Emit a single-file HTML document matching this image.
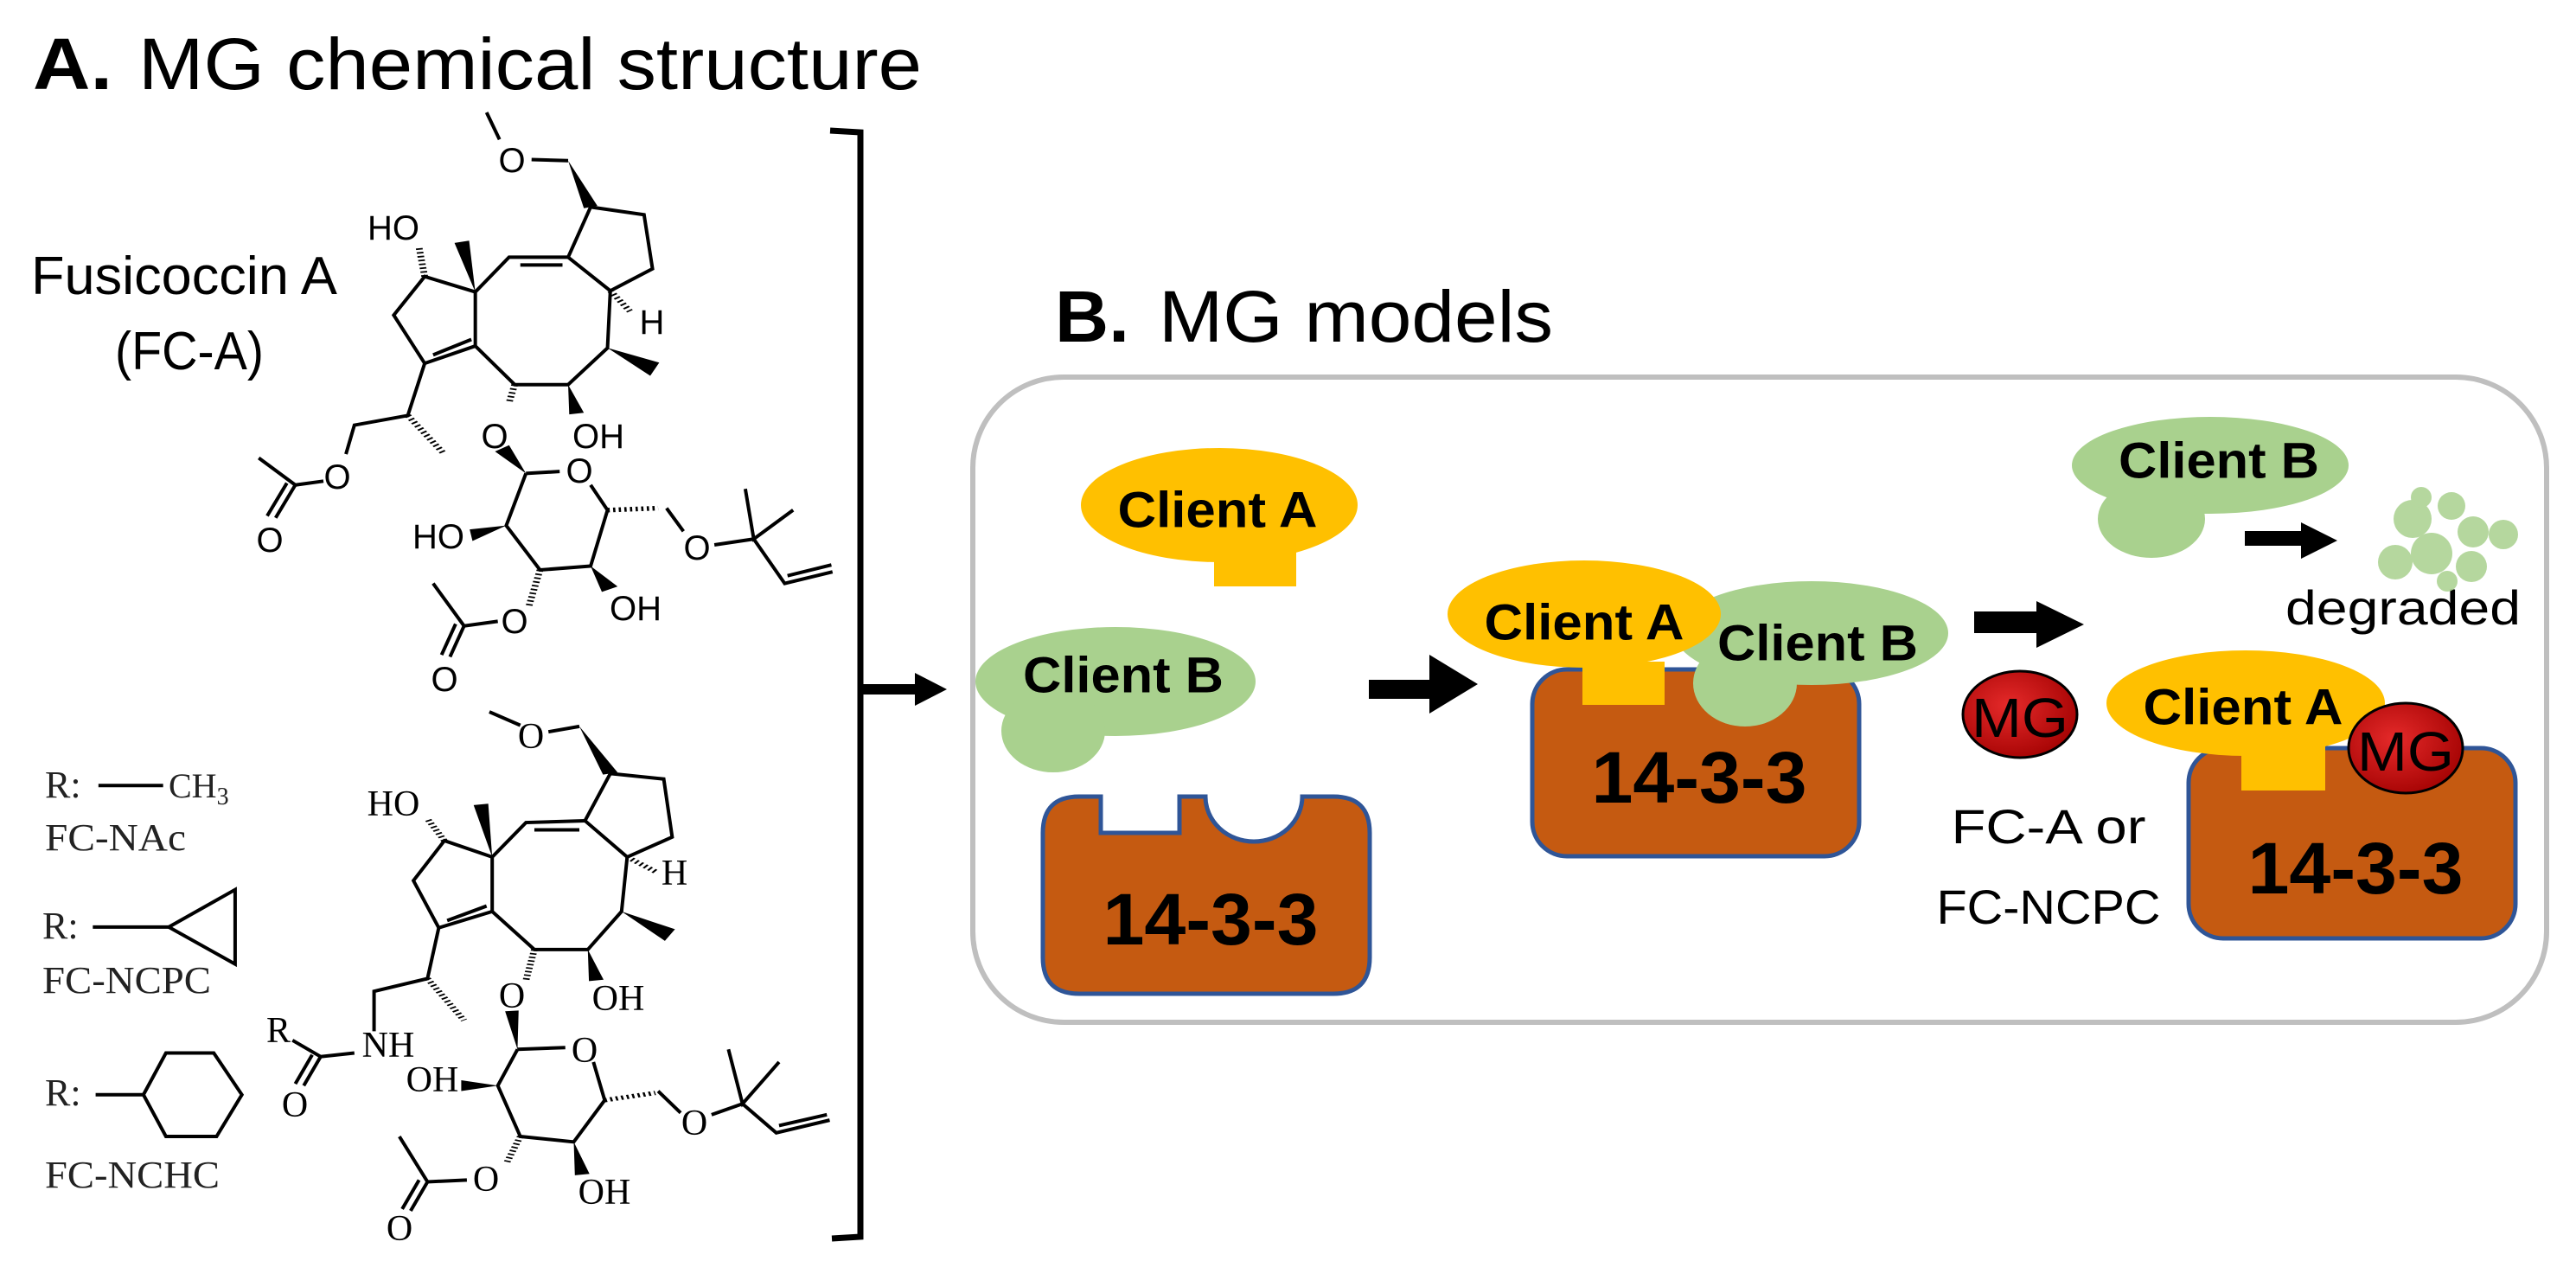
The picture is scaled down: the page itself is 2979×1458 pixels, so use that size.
<!DOCTYPE html>
<html><head><meta charset="utf-8"><style>
html,body{margin:0;padding:0;background:#fff;}
svg{display:block;}
</style></head><body>
<svg width="2979" height="1458" viewBox="0 0 2979 1458" xmlns="http://www.w3.org/2000/svg">
<defs>
<radialGradient id="mg" cx="0.4" cy="0.4" r="0.7">
<stop offset="0" stop-color="#e52a2a"/><stop offset="1" stop-color="#a00000"/>
</radialGradient>
</defs>
<rect width="2979" height="1458" fill="#fff"/>

<!-- Titles -->
<text x="38" y="103" font-family="Liberation Sans, sans-serif" font-weight="bold" font-size="84" textLength="92" lengthAdjust="spacingAndGlyphs">A.</text>
<text x="160" y="103" font-family="Liberation Sans, sans-serif" font-size="84" textLength="906" lengthAdjust="spacingAndGlyphs">MG chemical structure</text>
<text x="1220" y="395" font-family="Liberation Sans, sans-serif" font-weight="bold" font-size="84" textLength="86" lengthAdjust="spacingAndGlyphs">B.</text>
<text x="1340" y="395" font-family="Liberation Sans, sans-serif" font-size="84" textLength="456" lengthAdjust="spacingAndGlyphs">MG models</text>

<!-- Fusicoccin label -->
<text x="213" y="340" text-anchor="middle" font-family="Liberation Sans, sans-serif" font-size="62" textLength="354" lengthAdjust="spacingAndGlyphs">Fusicoccin A</text>
<text x="219" y="427" text-anchor="middle" font-family="Liberation Sans, sans-serif" font-size="62" textLength="172" lengthAdjust="spacingAndGlyphs">(FC-A)</text>

<!-- Upper structure -->
<g transform="translate(0,130) scale(0.6505,0.4464)" fill="none" stroke="#000">
<g stroke-width="4">
<polyline vector-effect="non-scaling-stroke" points="865,0 888,70"/>
<polyline vector-effect="non-scaling-stroke" points="945,122 1010,125"/>
<polygon vector-effect="non-scaling-stroke" points="1050,245 1145,265 1160,405 1085,462 1010,375"/>
<polyline vector-effect="non-scaling-stroke" points="1010,375 905,375 845,465 845,605 915,705 1010,705 1080,610 1085,462"/>
<polyline vector-effect="non-scaling-stroke" points="925,395 1000,395"/>
<polyline vector-effect="non-scaling-stroke" points="845,465 755,425 700,525 755,650 845,605"/>
<polyline vector-effect="non-scaling-stroke" points="770,628 838,588"/>
<polyline vector-effect="non-scaling-stroke" points="755,650 725,785 630,810 615,885"/>
<polyline vector-effect="non-scaling-stroke" points="575,955 525,965 460,895"/>
<polyline vector-effect="non-scaling-stroke" points="525,965 490,1050"/>
<polyline vector-effect="non-scaling-stroke" points="510,960 475,1045"/>
<polyline vector-effect="non-scaling-stroke" points="935,935 995,930"/>
<polyline vector-effect="non-scaling-stroke" points="1050,965 1080,1030 1050,1175 960,1185 900,1070 935,935"/>
<polyline vector-effect="non-scaling-stroke" points="1185,1025 1215,1085"/>
<polyline vector-effect="non-scaling-stroke" points="1270,1120 1340,1105"/>
<polyline vector-effect="non-scaling-stroke" points="1325,975 1340,1105 1410,1030"/>
<polyline vector-effect="non-scaling-stroke" points="1340,1105 1395,1220 1480,1190"/>
<polyline vector-effect="non-scaling-stroke" points="1400,1200 1478,1172"/>
<polyline vector-effect="non-scaling-stroke" points="885,1318 825,1330 770,1220"/>
<polyline vector-effect="non-scaling-stroke" points="825,1330 800,1410"/>
<polyline vector-effect="non-scaling-stroke" points="810,1325 785,1405"/>
</g>
<g fill="#000" stroke="none">
<polygon points="1010,125 1038,248 1062,242"/>
<polygon points="845,465 808,338 834,332"/>
<polygon points="1080,610 1156,682 1172,648"/>
<polygon points="1010,705 1012,782 1038,778"/>
<polygon points="935,935 880,878 905,862"/>
<polygon points="900,1070 835,1080 840,1110"/>
<polygon points="1050,1175 1070,1242 1098,1228"/>
</g>
<g stroke-width="12" stroke-dasharray="4 6">
<line x1="1085" y1="462" x2="1120" y2="515"/>
<line x1="915" y1="705" x2="905" y2="752"/>
<line x1="755" y1="425" x2="745" y2="350"/>
<line x1="725" y1="785" x2="790" y2="885"/>
<line x1="1080" y1="1030" x2="1170" y2="1025"/>
<line x1="960" y1="1185" x2="940" y2="1280"/>
</g>
</g>
<g font-family="Liberation Sans, sans-serif" font-size="40" text-anchor="middle" dominant-baseline="central">
<text x="592" y="186">O</text>
<text x="455" y="264">HO</text>
<text x="754" y="373">H</text>
<text x="572" y="505">O</text>
<text x="692" y="505">OH</text>
<text x="390" y="552">O</text>
<text x="312" y="625">O</text>
<text x="670" y="545">O</text>
<text x="507" y="621">HO</text>
<text x="806" y="634">O</text>
<text x="735" y="704">OH</text>
<text x="595" y="719">O</text>
<text x="514" y="786">O</text>
</g>

<!-- Lower structure -->
<g transform="translate(0,800) scale(0.6505,0.4196)" fill="none" stroke="#000">
<g stroke-width="4">
<polyline vector-effect="non-scaling-stroke" points="870,55 925,92"/>
<polyline vector-effect="non-scaling-stroke" points="975,110 1030,95"/>
<polygon vector-effect="non-scaling-stroke" points="1085,225 1180,240 1195,400 1115,455 1040,355"/>
<polyline vector-effect="non-scaling-stroke" points="1040,355 935,360 875,455 875,605 950,710 1045,710 1105,605 1115,455"/>
<polyline vector-effect="non-scaling-stroke" points="950,380 1030,380"/>
<polyline vector-effect="non-scaling-stroke" points="875,455 790,410 735,520 780,650 875,605"/>
<polyline vector-effect="non-scaling-stroke" points="795,630 865,590"/>
<polyline vector-effect="non-scaling-stroke" points="780,650 760,790 665,825 665,935"/>
<polyline vector-effect="non-scaling-stroke" points="630,995 570,1005 520,960"/>
<polyline vector-effect="non-scaling-stroke" points="570,1005 540,1085"/>
<polyline vector-effect="non-scaling-stroke" points="555,1000 525,1080"/>
<polyline vector-effect="non-scaling-stroke" points="920,985 1005,980"/>
<polyline vector-effect="non-scaling-stroke" points="1055,1020 1075,1125 1020,1240 925,1225 885,1085 920,985"/>
<polyline vector-effect="non-scaling-stroke" points="1170,1100 1210,1160"/>
<polyline vector-effect="non-scaling-stroke" points="1265,1165 1320,1135"/>
<polyline vector-effect="non-scaling-stroke" points="1295,985 1320,1135 1385,1020"/>
<polyline vector-effect="non-scaling-stroke" points="1320,1135 1380,1215 1475,1180"/>
<polyline vector-effect="non-scaling-stroke" points="1385,1195 1470,1165"/>
<polyline vector-effect="non-scaling-stroke" points="830,1345 760,1350 710,1225"/>
<polyline vector-effect="non-scaling-stroke" points="760,1350 730,1430"/>
<polyline vector-effect="non-scaling-stroke" points="745,1345 715,1425"/>
<polyline vector-effect="non-scaling-stroke" points="175,258 290,258"/>
<polyline vector-effect="non-scaling-stroke" points="165,648 300,648"/>
<polygon vector-effect="non-scaling-stroke" points="300,648 418,545 418,750"/>
<polyline vector-effect="non-scaling-stroke" points="170,1110 255,1110"/>
<polygon vector-effect="non-scaling-stroke" points="255,1110 295,995 380,995 430,1110 385,1225 295,1225"/>
</g>
<g fill="#000" stroke="none">
<polygon points="1030,95 1072,228 1098,222"/>
<polygon points="875,455 842,312 868,308"/>
<polygon points="1105,605 1182,686 1200,654"/>
<polygon points="1045,710 1047,797 1073,793"/>
<polygon points="920,985 898,880 922,878"/>
<polygon points="885,1085 820,1070 820,1100"/>
<polygon points="1020,1240 1022,1332 1048,1328"/>
</g>
<g stroke-width="12" stroke-dasharray="4 6">
<line x1="1115" y1="455" x2="1165" y2="495"/>
<line x1="950" y1="710" x2="935" y2="795"/>
<line x1="790" y1="410" x2="760" y2="350"/>
<line x1="760" y1="790" x2="825" y2="905"/>
<line x1="1075" y1="1125" x2="1165" y2="1105"/>
<line x1="925" y1="1225" x2="900" y2="1300"/>
</g>
</g>
<g font-family="Liberation Serif, serif" font-size="42" text-anchor="middle" dominant-baseline="central">
<text x="614" y="852">O</text>
<text x="455" y="930">HO</text>
<text x="780" y="1010">H</text>
<text x="715" y="1155">OH</text>
<text x="592" y="1152">O</text>
<text x="449" y="1209">NH</text>
<text x="322" y="1192">R</text>
<text x="341" y="1278">O</text>
<text x="676" y="1215">O</text>
<text x="500" y="1249">OH</text>
<text x="803" y="1299">O</text>
<text x="699" y="1379">OH</text>
<text x="562" y="1364">O</text>
<text x="462" y="1421">O</text>
</g>
<g font-family="Liberation Serif, serif" font-size="44" fill="#222">
<text x="52" y="922">R:</text>
<text x="195" y="922" font-size="40">CH<tspan font-size="28" dy="8">3</tspan></text>
<text x="52" y="983" textLength="163" lengthAdjust="spacingAndGlyphs">FC-NAc</text>
<text x="49" y="1085">R:</text>
<text x="49" y="1148" textLength="195" lengthAdjust="spacingAndGlyphs">FC-NCPC</text>
<text x="52" y="1278">R:</text>
<text x="52" y="1373" textLength="202" lengthAdjust="spacingAndGlyphs">FC-NCHC</text>
</g>

<!-- Bracket and arrow -->
<polyline points="960,151 995,153 995,1430 962,1432" fill="none" stroke="#000" stroke-width="7"/>
<line x1="995" y1="797" x2="1062" y2="797" stroke="#000" stroke-width="12"/>
<polygon points="1058,778 1095,797 1058,816" fill="#000"/>

<!-- Panel B box -->
<rect x="1125" y="436" width="1820" height="746" rx="105" ry="105" fill="none" stroke="#bfbfbf" stroke-width="6"/>

<g font-family="Liberation Sans, sans-serif" font-weight="bold" text-anchor="middle" dominant-baseline="central" fill="#000">
<ellipse cx="1410" cy="584" rx="160" ry="66" fill="#ffc000"/>
<text x="1408" y="590" font-size="58" textLength="231" lengthAdjust="spacingAndGlyphs">Client A</text>
<rect x="1404" y="630" width="95" height="48" fill="#ffc000"/>

<ellipse cx="1290" cy="788" rx="162" ry="63" fill="#a9d18e"/>
<ellipse cx="1218" cy="845" rx="60" ry="48" fill="#a9d18e"/>
<text x="1299" y="781" font-size="58" textLength="232" lengthAdjust="spacingAndGlyphs">Client B</text>

<path d="M1248,921 H1273 V963 H1364 V921 H1394 A56,52 0 0 0 1506,921 H1542 Q1584,921 1584,963 V1107 Q1584,1149 1542,1149 H1248 Q1206,1149 1206,1107 V963 Q1206,921 1248,921 Z" fill="#c55a11" stroke="#2f5597" stroke-width="5"/>
<text x="1400" y="1063" font-size="84" textLength="249" lengthAdjust="spacingAndGlyphs">14-3-3</text>

<polygon points="1583,786 1653,786 1653,757 1709,791 1653,825 1653,808 1583,808" fill="#000"/>

<rect x="1772" y="774" width="378" height="216" rx="40" fill="#c55a11" stroke="#2f5597" stroke-width="5"/>
<text x="1965" y="899" font-size="84" textLength="249" lengthAdjust="spacingAndGlyphs">14-3-3</text>
<ellipse cx="2095" cy="732" rx="158" ry="60" fill="#a9d18e"/>
<ellipse cx="2018" cy="790" rx="60" ry="50" fill="#a9d18e"/>
<text x="2102" y="744" font-size="58" textLength="232" lengthAdjust="spacingAndGlyphs">Client B</text>
<ellipse cx="1832" cy="710" rx="158" ry="62" fill="#ffc000"/>
<rect x="1830" y="765" width="95" height="50" fill="#ffc000"/>
<text x="1832" y="720" font-size="58" textLength="231" lengthAdjust="spacingAndGlyphs">Client A</text>

<polygon points="2283,707 2355,707 2355,695 2410,722 2355,749 2355,732 2283,732" fill="#000"/>

<ellipse cx="2336" cy="826" rx="66" ry="50" fill="url(#mg)" stroke="#000" stroke-width="3"/>
<text x="2336" y="830" font-size="64" font-weight="normal" textLength="112" lengthAdjust="spacingAndGlyphs">MG</text>
</g>
<g font-family="Liberation Sans, sans-serif" font-size="56" text-anchor="middle" fill="#000">
<text x="2369" y="975" textLength="225" lengthAdjust="spacingAndGlyphs">FC-A or</text>
<text x="2369" y="1068" textLength="259" lengthAdjust="spacingAndGlyphs">FC-NCPC</text>
<text x="2779" y="722" textLength="272" lengthAdjust="spacingAndGlyphs">degraded</text>
</g>

<g font-family="Liberation Sans, sans-serif" font-weight="bold" text-anchor="middle" dominant-baseline="central" fill="#000">
<ellipse cx="2556" cy="538" rx="160" ry="56" fill="#a9d18e"/>
<ellipse cx="2488" cy="600" rx="62" ry="45" fill="#a9d18e"/>
<text x="2566" y="533" font-size="58" textLength="232" lengthAdjust="spacingAndGlyphs">Client B</text>
<polygon points="2596,614 2661,614 2661,604 2703,625 2661,646 2661,631 2596,631" fill="#000"/>
<g fill="#a9d18e" opacity="0.85">
<circle cx="2790" cy="600" r="22"/><circle cx="2835" cy="585" r="16"/><circle cx="2860" cy="615" r="18"/>
<circle cx="2895" cy="618" r="17"/><circle cx="2812" cy="640" r="24"/><circle cx="2770" cy="650" r="20"/>
<circle cx="2858" cy="655" r="18"/><circle cx="2830" cy="672" r="12"/><circle cx="2800" cy="575" r="12"/>
</g>

<rect x="2531" y="865" width="378" height="220" rx="40" fill="#c55a11" stroke="#2f5597" stroke-width="5"/>
<text x="2724" y="1004" font-size="84" textLength="249" lengthAdjust="spacingAndGlyphs">14-3-3</text>
<ellipse cx="2597" cy="813" rx="161" ry="61" fill="#ffc000"/>
<rect x="2592" y="860" width="97" height="54" fill="#ffc000"/>
<text x="2594" y="818" font-size="58" textLength="231" lengthAdjust="spacingAndGlyphs">Client A</text>
<ellipse cx="2782" cy="865" rx="66" ry="52" fill="url(#mg)" stroke="#000" stroke-width="3"/>
<text x="2782" y="869" font-size="64" font-weight="normal" textLength="112" lengthAdjust="spacingAndGlyphs">MG</text>
</g>
</svg>
</body></html>
